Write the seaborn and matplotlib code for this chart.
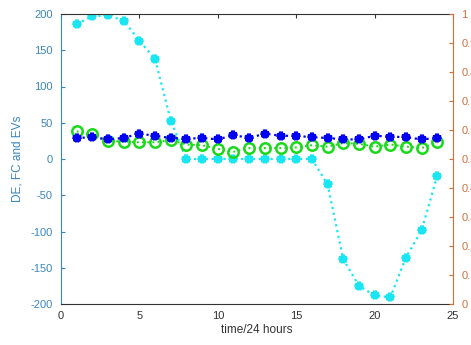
import matplotlib
matplotlib.use("Agg")
import matplotlib.pyplot as plt
import seaborn as sns
import numpy as np
import pandas as pd

# hourly values over one day
hours = list(range(1, 25))
de = [186, 197, 198, 191, 163, 138, 53, 0, 0, 0, 0, 0, 0, 0, 0, 0,
      -35, -138, -175, -188, -191, -136, -98, -23]
fc = [29, 30, 27, 29, 35, 32, 29, 28, 29, 27, 33, 29, 35, 32, 32, 30,
      29, 27, 27, 32, 31, 30, 27, 29]
evs = [38, 34, 25, 24, 23, 23, 26, 20, 19, 14, 10, 15, 15, 15, 16, 19,
       17, 22, 21, 17, 20, 17, 15, 23]

left_ticks = [-200, -150, -100, -50, 0, 50, 100, 150, 200]
right_ticks = [0, 0.1, 0.2, 0.3, 0.4, 0.5, 0.6, 0.7, 0.8, 0.9, 1]
x_ticks = [0, 5, 10, 15, 20, 25]

sns.set_style("white")
plt.rcParams['font.family'] = ['Liberation Sans', 'DejaVu Sans']
plt.rcParams['axes.unicode_minus'] = False

left_color = '#3a86bb'
right_color = '#d2703c'
cyan = (0.1, 0.9, 0.95)
green = (0.1, 0.85, 0.1)
blue = (0.0, 0.0, 0.95)

df = pd.DataFrame({"hour": hours, "DE": de, "FC": fc, "EVs": evs})

fig = plt.figure(figsize=(4.71, 3.45), dpi=100)
ax = fig.add_axes([61 / 471, 1 - 304 / 345, (453 - 61) / 471, (304 - 14) / 345])

sns.lineplot(data=df, x="hour", y="DE", ax=ax, color=cyan,
             linestyle=':', linewidth=1.6, marker='*', markersize=6,
             markeredgewidth=2.8, markeredgecolor=cyan)
sns.lineplot(data=df, x="hour", y="EVs", ax=ax, color=green,
             linestyle=':', linewidth=1.4, marker='o', markersize=7.5,
             markerfacecolor='none', markeredgewidth=1.8,
             markeredgecolor=green)
sns.lineplot(data=df, x="hour", y="FC", ax=ax, color=blue,
             linestyle=':', linewidth=1.6, marker='*', markersize=6,
             markeredgewidth=2.8, markeredgecolor=blue)

ax.set_xlim(0, 25)
ax.set_ylim(-200, 200)
ax.set_xticks(x_ticks)
ax.set_yticks(left_ticks)
ax.set_xlabel("time/24 hours", fontsize=8.5, color='#333333', labelpad=2)
ax.set_ylabel("DE, FC and EVs", fontsize=8.5, color=left_color, labelpad=5)
ax.tick_params(axis='x', direction='in', length=3, labelsize=8, colors='#333333',
               top=True, pad=5)
ax.tick_params(axis='y', direction='in', length=3, labelsize=8,
               colors=left_color, pad=6)
ax.spines['left'].set_color(left_color)
ax.spines['bottom'].set_color('#333333')
ax.spines['top'].set_color('#333333')
ax.spines['right'].set_visible(False)
for s in ax.spines.values():
    s.set_linewidth(0.8)

ax2 = ax.twinx()
ax2.set_ylim(0, 1)
ax2.set_yticks(right_ticks)
ax2.set_yticklabels([f"{t:g}" for t in right_ticks])
ax2.tick_params(axis='y', direction='in', length=3, labelsize=8,
                colors=right_color, pad=6)
for name, s in ax2.spines.items():
    s.set_visible(name == 'right')
ax2.spines['right'].set_color(right_color)
ax2.spines['right'].set_linewidth(0.8)

fig.savefig("out.png", dpi=100)
